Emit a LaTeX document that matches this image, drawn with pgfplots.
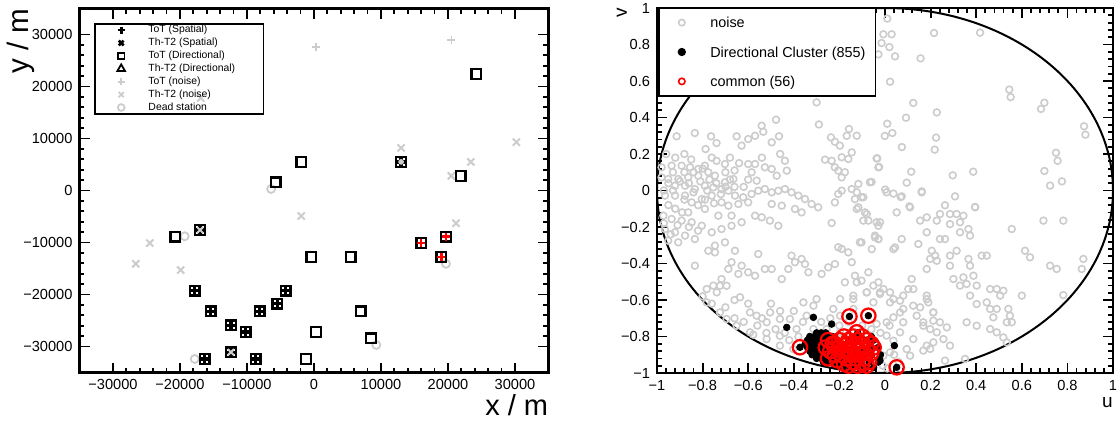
\documentclass[border=0pt]{standalone}
\usepackage{pgfplots}
\pgfplotsset{compat=1.18}
\usepackage{fontspec}
\setmainfont{Liberation Sans}
\definecolor{lgrey}{RGB}{204,204,204}
\definecolor{rred}{RGB}{255,0,0}
\pgfplotsset{
 rootaxis/.style={
  scale only axis, anchor=south west,
  tick align=inside, tick pos=both,
  xticklabel pos=lower, yticklabel pos=left,
  major tick length=5pt, minor tick length=2.5pt,
  tick style={black, line width=0.9pt},
  axis line style={line width=1.2pt},
  minor x tick num=4, minor y tick num=4,
  ticklabel style={font=\fontsize{7.3}{8.5}\selectfont},
  scaled ticks=false,
  legend cell align=left,
 },
}
\begin{document}
\begin{tikzpicture}
\path[use as bounding box] (0,0) rectangle (558.5pt,212.5pt);
% ---------------- left panel ----------------
\begin{axis}[rootaxis, at={(39.75pt,26.25pt)}, width=234.5pt, height=182pt,
  xmin=-35000, xmax=35000, ymin=-35000, ymax=35000,
  xtick={-30000,-20000,-10000,0,10000,20000,30000},
  xticklabels={−30000,−20000,−10000,0,10000,20000,30000},
  ytick={-30000,-20000,-10000,0,10000,20000,30000},
  yticklabels={−30000,−20000,−10000,0,10000,20000,30000},
  xlabel={x / m},
  xlabel style={at={(axis description cs:1,0)}, anchor=base east, yshift=-21.5pt, inner sep=0pt, font=\fontsize{14.5}{16}\selectfont},
  ylabel={y / m},
  ylabel style={at={(axis description cs:-0.125,1)}, anchor=east, inner sep=0pt, font=\fontsize{14.8}{16}\selectfont},
  legend image code/.code={\path (0pt,0pt) (17pt,0pt); \draw[#1] plot coordinates {(9.5pt,0pt)};},
  legend style={at={(axis description cs:0,1)}, anchor=north west, xshift=7.25pt, yshift=-7.25pt,
    draw=black, line width=0.9pt, fill=none, inner xsep=3pt, inner ysep=0.6pt,
    font=\fontsize{5.2}{6}\selectfont, row sep=1.45pt, column sep=3.5pt,
    nodes={inner xsep=2pt, inner ysep=0pt, text height=3.9pt, text depth=1.1pt}},
]
\addlegendimage{only marks, mark=+, mark size=1.8pt, line width=1.3pt, black}
\addlegendentry{ToT (Spatial)\hspace*{23pt}}
\addlegendimage{only marks, mark=x, mark size=1.7pt, line width=1.3pt, black}
\addlegendentry{Th-T2 (Spatial)}
\addlegendimage{only marks, mark=square, mark size=1.6pt, line width=0.9pt, black}
\addlegendentry{ToT (Directional)}
\addlegendimage{only marks, mark=triangle, mark size=2.2pt, line width=0.9pt, black}
\addlegendentry{Th-T2 (Directional)}
\addlegendimage{only marks, mark=+, mark size=1.8pt, line width=0.9pt, lgrey}
\addlegendentry{ToT (noise)}
\addlegendimage{only marks, mark=x, mark size=1.8pt, line width=0.9pt, lgrey}
\addlegendentry{Th-T2 (noise)}
\addlegendimage{only marks, mark=o, mark size=1.7pt, line width=0.9pt, lgrey}
\addlegendentry{Dead station}
% noise: Th-T2
\addplot[forget plot, only marks, mark=x, mark size=2.5pt, line width=1pt, lgrey] table {
13000 8200
30200 9300
23400 5500
20500 2800
-1900 -4900
21200 -6300
-24500 -10100
-26600 -14100
-19900 -15300
-16900 17800
};
% noise: ToT
\addplot[forget plot, only marks, mark=+, mark size=2pt, line width=0.8pt, lgrey] table {
300 27600
20500 28900
};
% dead stations
\addplot[forget plot, only marks, mark=o, mark size=2pt, line width=0.9pt, lgrey] table {
-19300 -8800
19700 -14100
9300 -29700
-6400 300
-17800 -32400
};
% ToT directional squares
\addplot[forget plot, only marks, mark=square, mark size=2.4pt, line width=1.2pt, black] table {
24200 22400
-1900 5500
-5700 1600
13000 5500
21900 2800
-20700 -8900
-17000 -7600
-400 -12800
5500 -12800
16000 -10100
19700 -8900
19000 -12800
7000 -23200
300 -27200
8500 -28400
-1200 -32400
-17800 -19300
-15400 -23200
-12400 -25900
-10200 -27200
-8100 -23200
-5500 -21800
-4200 -19300
-16300 -32400
-8700 -32400
-12400 -31100
};
% ToT spatial (black filled cross)
\addplot[forget plot, only marks, mark=+, mark size=1.8pt, line width=1.6pt, black] table {
-17800 -19300
-15400 -23200
-12400 -25900
-10200 -27200
-8100 -23200
-5500 -21800
-4200 -19300
-16300 -32400
-8700 -32400
-12400 -31100
-17000 -7600
13000 5500
};
% red crosses
\addplot[forget plot, only marks, mark=+, mark size=2pt, line width=1.3pt, rred] table {
16000 -10100
19700 -8900
19000 -12800
};
% grey x over squares
\addplot[forget plot, only marks, mark=x, mark size=2.2pt, line width=1pt, lgrey] table {
-17000 -7600
-12400 -31100
};
\addplot[forget plot, only marks, mark=*, mark size=1.2pt, lgrey] table {
13000 5500
};
\end{axis}
% ---------------- right panel ----------------
\begin{axis}[rootaxis, at={(328.5pt,26pt)}, width=228pt, height=182.5pt,
  xmin=-1, xmax=1, ymin=-1, ymax=1,
  xtick={-1,-0.8,-0.6,-0.4,-0.2,0,0.2,0.4,0.6,0.8,1},
  xticklabels={−1,−0.8,−0.6,−0.4,−0.2,0,0.2,0.4,0.6,0.8,1},
  ytick={-1,-0.8,-0.6,-0.4,-0.2,0,0.2,0.4,0.6,0.8,1},
  yticklabels={−1,−0.8,−0.6,−0.4,−0.2,0,0.2,0.4,0.6,0.8,1},
  xlabel={u},
  xlabel style={at={(axis description cs:1,0)}, anchor=base east, yshift=-17pt, inner sep=0pt, font=\fontsize{9.5}{11}\selectfont},
  ylabel={v},
  ylabel style={at={(axis description cs:-0.077,1)}, anchor=east, inner sep=0pt, font=\fontsize{9.5}{11}\selectfont},
  legend image code/.code={\path (0pt,0pt) (17pt,0pt); \draw[#1] plot coordinates {(8pt,0pt)};},
  legend style={at={(axis description cs:0,1)}, anchor=north west, xshift=0.5pt, yshift=0.5pt,
    draw=black, line width=0.9pt, fill=white, inner xsep=3pt, inner ysep=3.5pt,
    font=\fontsize{7.2}{8.5}\selectfont, row sep=7pt, column sep=2.8pt,
    nodes={inner xsep=2pt, inner ysep=0pt, text height=6.5pt, text depth=1.2pt}},
]
\addlegendimage{only marks, mark=o, mark size=1.6pt, line width=0.8pt, lgrey}
\addlegendentry{noise}
\addlegendimage{only marks, mark=*, mark size=1.6pt, black}
\addlegendentry{Directional Cluster (855)}
\addlegendimage{only marks, mark=o, mark size=1.6pt, line width=0.8pt, rred}
\addlegendentry{common (56)}
% noise
\addplot[forget plot, only marks, mark=o, mark size=1.7pt, line width=0.8pt, lgrey] table {
-0.300 0.483
-0.478 0.388
-0.290 0.362
-0.541 0.355
-0.158 0.337
-0.834 0.315
-0.914 0.297
-0.763 0.297
-0.651 0.297
-0.570 0.300
-0.534 0.322
-0.465 0.297
-0.600 0.282
-0.629 0.246
-0.739 0.260
-0.787 0.227
-0.497 0.264
-0.237 0.291
-0.220 0.267
-0.198 0.246
-0.168 0.300
-0.124 0.300
-0.146 0.209
-0.161 0.173
-0.263 0.169
-0.234 0.163
-0.190 0.182
-0.034 0.176
-0.029 0.127
-0.220 0.127
-0.205 0.109
-0.176 0.100
-0.190 0.072
-0.117 0.036
-0.066 0.045
-0.146 0.008
-0.190 -0.001
-0.205 -0.019
-0.220 -0.065
-0.132 -0.047
-0.103 -0.037
-0.117 -0.092
-0.088 -0.120
-0.073 -0.165
-0.037 -0.174
-0.044 -0.247
-0.029 -0.266
-0.103 -0.284
-0.234 -0.178
-0.190 -0.320
-0.161 -0.339
-0.205 -0.311
-0.146 -0.393
-0.220 -0.403
-0.249 -0.421
-0.278 -0.457
-0.336 -0.448
-0.410 -0.357
-0.395 -0.393
-0.366 -0.375
-0.351 -0.403
-0.424 -0.430
-0.453 -0.485
-0.073 -0.448
-0.132 -0.467
-0.176 -0.503
-0.103 -0.494
-0.029 -0.503
-0.980 0.127
-0.936 0.136
-0.892 0.136
-0.855 0.127
-0.819 0.118
-0.790 0.136
-0.739 0.163
-0.702 0.145
-0.665 0.063
-0.702 0.045
-0.746 0.081
-0.775 0.100
-0.819 0.081
-0.863 0.072
-0.907 0.063
-0.951 0.063
-0.980 0.072
-0.921 0.026
-0.877 0.026
-0.834 0.008
-0.790 0.026
-0.753 0.017
-0.717 0.008
-0.687 -0.001
-0.658 -0.028
-0.622 -0.037
-0.585 -0.019
-0.556 -0.001
-0.527 0.008
-0.497 -0.010
-0.468 -0.001
-0.439 0.008
-0.410 -0.010
-0.380 -0.028
-0.351 -0.047
-0.322 -0.074
-0.293 -0.092
-0.570 0.145
-0.527 0.127
-0.497 0.118
-0.439 0.163
-0.431 0.109
-0.475 0.081
-0.563 0.054
-0.600 0.145
-0.585 0.100
-0.497 -0.074
-0.453 -0.083
-0.395 -0.101
-0.366 -0.120
-0.965 -0.028
-0.921 -0.028
-0.877 -0.028
-0.848 -0.065
-0.804 -0.047
-0.760 -0.028
-0.717 -0.065
-0.687 -0.083
-0.643 -0.074
-0.600 -0.065
-0.570 -0.138
-0.541 -0.147
-0.505 -0.165
-0.629 -0.174
-0.673 -0.193
-0.717 -0.211
-0.760 -0.229
-0.804 -0.193
-0.848 -0.174
-0.892 -0.165
-0.936 -0.156
-0.972 -0.138
-0.965 -0.211
-0.921 -0.229
-0.877 -0.247
-0.907 -0.284
-0.951 -0.275
-0.834 -0.266
-0.775 -0.330
-0.746 -0.339
-0.702 -0.284
-0.658 -0.330
-0.673 -0.393
-0.629 -0.412
-0.600 -0.448
-0.570 -0.467
-0.643 -0.457
-0.687 -0.430
-0.527 -0.430
-0.497 -0.430
-0.556 -0.348
-0.468 -0.193
-0.746 -0.302
-0.731 -0.138
-0.673 -0.138
-0.863 -0.120
-0.790 -0.101
-0.834 -0.412
-0.717 -0.485
-0.753 -0.521
-0.95 0.04
-0.93 0.00
-0.90 0.05
-0.86 0.04
-0.84 -0.01
-0.81 0.05
-0.78 0.00
-0.77 0.06
-0.74 0.04
-0.72 -0.02
-0.70 0.02
-0.68 0.06
-0.66 0.02
-0.88 -0.05
-0.82 -0.08
-0.79 -0.05
-0.75 -0.07
-0.95 -0.08
-0.92 -0.10
-0.89 -0.12
-0.84 0.10
-0.80 0.12
-0.88 0.10
-0.93 0.10
-0.97 0.00
-0.70 0.10
-0.66 0.11
-0.62 0.02
-0.60 0.06
-0.91 -0.19
-0.86 -0.20
-0.82 -0.22
-0.97 -0.18
-0.94 -0.24
-0.96 0.20
-0.92 0.18
-0.88 0.20
-0.85 0.17
-0.76 0.18
-0.68 0.18
-0.64 0.15
-0.54 0.18
-0.46 0.20
-0.80 -0.58
-0.76 -0.62
-0.70 -0.64
-0.66 -0.70
-0.62 -0.72
-0.56 -0.74
-0.52 -0.78
-0.48 -0.76
-0.44 -0.78
-0.42 -0.82
-0.38 -0.80
-0.54 -0.70
-0.60 -0.62
-0.66 -0.60
-0.50 -0.62
-0.46 -0.66
-0.40 -0.66
-0.36 -0.72
-0.28 -0.72
-0.24 -0.70
-0.20 -0.74
-0.16 -0.72
-0.10 -0.74
-0.06 -0.76
-0.02 -0.78
0.02 -0.74
0.04 -0.90
0.06 -0.94
0.010 0.942
-0.007 0.856
0.029 0.856
-0.015 0.808
0.019 0.786
-0.029 0.746
0.044 0.735
0.022 0.596
0.215 0.863
0.417 0.865
0.156 0.724
0.545 0.553
0.551 0.512
0.699 0.481
0.684 0.447
0.873 0.352
0.879 0.306
0.124 0.480
0.227 0.428
0.092 0.399
0.010 0.366
0.032 0.315
-0.001 0.299
0.224 0.290
0.074 0.238
0.218 0.224
-0.037 0.176
-0.026 0.129
0.115 0.103
0.297 0.083
0.387 0.103
0.750 0.207
0.757 0.163
0.699 0.107
0.776 0.050
0.724 0.027
-0.059 0.047
0.095 0.043
0.001 0.005
0.037 -0.017
0.069 -0.036
0.161 -0.005
0.307 -0.032
0.263 -0.081
0.395 -0.090
0.107 -0.087
-0.124 -0.010
-0.095 -0.037
0.007 -0.010
0.073 -0.032
0.161 -0.010
0.395 -0.092
0.110 -0.092
0.051 -0.120
-0.080 -0.129
-0.124 -0.101
-0.095 -0.165
-0.022 -0.174
-0.029 -0.193
0.241 -0.129
0.285 -0.129
0.314 -0.129
0.344 -0.138
0.154 -0.165
0.183 -0.147
0.227 -0.165
0.285 -0.184
0.329 -0.174
0.329 -0.229
0.366 -0.211
0.373 -0.247
0.183 -0.229
0.241 -0.266
0.263 -0.266
0.073 -0.266
-0.029 -0.266
-0.044 -0.257
-0.110 -0.284
-0.058 -0.321
0.044 -0.312
0.037 -0.321
0.146 -0.293
0.205 -0.330
0.220 -0.357
0.314 -0.330
0.366 -0.375
0.424 -0.357
0.446 -0.357
0.556 -0.211
0.695 -0.165
0.782 -0.165
0.614 -0.330
0.636 -0.366
0.724 -0.412
0.753 -0.430
0.870 -0.375
0.863 -0.430
0.782 -0.573
0.600 -0.576
0.285 -0.412
0.373 -0.412
0.388 -0.467
0.300 -0.485
0.344 -0.476
0.358 -0.512
0.329 -0.521
0.402 -0.521
0.461 -0.540
0.490 -0.540
0.519 -0.549
0.505 -0.576
0.373 -0.576
0.402 -0.622
0.446 -0.613
0.461 -0.649
0.490 -0.649
0.541 -0.649
0.548 -0.686
0.475 -0.695
0.534 -0.722
0.556 -0.722
0.358 -0.722
0.402 -0.741
0.461 -0.759
0.490 -0.777
0.519 -0.805
0.534 -0.832
0.285 -0.357
0.198 -0.375
0.227 -0.385
0.183 -0.430
0.117 -0.485
0.124 -0.540
0.080 -0.576
0.102 -0.540
0.037 -0.595
-0.007 -0.540
-0.051 -0.521
-0.080 -0.558
-0.124 -0.503
-0.139 -0.595
0.183 -0.576
0.190 -0.613
0.154 -0.640
0.212 -0.668
0.139 -0.686
0.168 -0.722
0.212 -0.713
0.241 -0.722
0.198 -0.759
0.227 -0.777
0.271 -0.750
0.256 -0.814
0.212 -0.832
0.285 -0.850
0.198 -0.868
0.168 -0.877
0.110 -0.905
0.351 -0.923
0.263 -0.932
0.080 -0.722
0.080 -0.649
0.066 -0.604
0.022 -0.558
-0.022 -0.567
0.037 -0.695
-0.037 -0.731
0.007 -0.795
0.022 -0.887
-0.007 -0.905
0.037 -0.823
-0.782 -0.613
-0.724 -0.668
-0.695 -0.522
-0.738 -0.558
-0.636 -0.585
-0.592 -0.668
-0.563 -0.686
-0.504 -0.668
-0.461 -0.704
-0.519 -0.722
-0.417 -0.704
-0.344 -0.686
-0.314 -0.631
-0.358 -0.613
-0.300 -0.595
-0.227 -0.649
-0.197 -0.686
-0.139 -0.649
-0.197 -0.595
-0.139 -0.576
-0.081 -0.558
-0.022 -0.558
-0.051 -0.613
0.022 -0.613
0.066 -0.668
0.124 -0.631
0.183 -0.595
0.212 -0.668
0.168 -0.741
0.124 -0.814
0.183 -0.850
0.095 -0.869
0.066 -0.777
0.007 -0.722
-0.022 -0.905
-0.197 -0.777
-0.256 -0.759
-0.314 -0.759
-0.388 -0.759
-0.461 -0.796
-0.519 -0.814
-0.578 -0.790
-0.592 -0.777
-0.651 -0.741
-0.695 -0.704
-0.461 -0.850
-0.402 -0.869
-0.314 -0.896
-0.724 -0.522
-0.782 -0.540
0.010 -0.975
-0.010 -0.960
};
\draw[line width=1pt] (axis cs:0,0) ellipse [x radius=1, y radius=1];
% directional cluster
\addplot[forget plot, only marks, mark=*, mark size=1.65pt, black] table {
-0.431 -0.750
-0.314 -0.695
-0.234 -0.732
0.041 -0.850
0.051 -0.969
-0.373 -0.859
-0.156 -0.690
-0.073 -0.686
-0.022 -0.932
-0.30 -0.78
-0.28 -0.78
-0.26 -0.78
-0.33 -0.80
-0.31 -0.80
-0.29 -0.80
-0.27 -0.80
-0.25 -0.80
-0.23 -0.80
-0.34 -0.82
-0.32 -0.82
-0.30 -0.82
-0.28 -0.82
-0.26 -0.82
-0.24 -0.82
-0.22 -0.82
-0.35 -0.84
-0.33 -0.84
-0.31 -0.84
-0.29 -0.84
-0.27 -0.84
-0.25 -0.84
-0.23 -0.84
-0.21 -0.84
-0.34 -0.86
-0.32 -0.86
-0.30 -0.86
-0.28 -0.86
-0.26 -0.86
-0.24 -0.86
-0.22 -0.86
-0.20 -0.86
-0.33 -0.88
-0.31 -0.88
-0.29 -0.88
-0.27 -0.88
-0.25 -0.88
-0.23 -0.88
-0.21 -0.88
-0.19 -0.88
-0.32 -0.90
-0.30 -0.90
-0.28 -0.90
-0.26 -0.90
-0.24 -0.90
-0.22 -0.90
-0.20 -0.90
-0.18 -0.90
-0.30 -0.92
-0.28 -0.92
-0.26 -0.92
-0.24 -0.92
-0.22 -0.92
-0.20 -0.92
-0.18 -0.92
-0.16 -0.92
-0.27 -0.94
-0.25 -0.94
-0.23 -0.94
-0.21 -0.94
-0.19 -0.94
-0.17 -0.94
-0.15 -0.94
-0.13 -0.94
-0.22 -0.96
-0.20 -0.96
-0.18 -0.96
-0.16 -0.96
-0.14 -0.96
-0.12 -0.96
-0.10 -0.96
-0.16 -0.82
-0.12 -0.82
-0.08 -0.82
-0.05 -0.82
-0.18 -0.86
-0.14 -0.86
-0.10 -0.86
-0.06 -0.86
-0.03 -0.86
-0.14 -0.90
-0.10 -0.90
-0.06 -0.90
-0.02 -0.90
-0.11 -0.94
-0.07 -0.94
-0.03 -0.94
-0.08 -0.97
-0.05 -0.97
-0.12 -0.78
-0.06 -0.80
};
% common
\addplot[forget plot, only marks, mark=o, mark size=3.6pt, line width=1.1pt, rred] table {
-0.373 -0.859
-0.156 -0.690
-0.073 -0.686
0.051 -0.969
-0.124 -0.777
-0.25 -0.82
-0.23 -0.84
-0.26 -0.86
-0.24 -0.88
-0.22 -0.90
-0.25 -0.92
-0.20 -0.82
-0.18 -0.80
-0.16 -0.82
-0.14 -0.80
-0.12 -0.82
-0.10 -0.80
-0.08 -0.82
-0.06 -0.84
-0.05 -0.86
-0.20 -0.86
-0.18 -0.85
-0.16 -0.87
-0.14 -0.85
-0.12 -0.87
-0.10 -0.85
-0.08 -0.87
-0.06 -0.89
-0.21 -0.93
-0.19 -0.90
-0.17 -0.92
-0.15 -0.90
-0.13 -0.92
-0.11 -0.90
-0.09 -0.92
-0.07 -0.94
-0.18 -0.95
-0.16 -0.96
-0.14 -0.94
-0.12 -0.96
-0.10 -0.95
-0.08 -0.96
-0.22 -0.84
-0.17 -0.84
-0.13 -0.84
-0.11 -0.88
-0.15 -0.88
-0.19 -0.88
-0.09 -0.89
};
\end{axis}
\end{tikzpicture}
\end{document}
